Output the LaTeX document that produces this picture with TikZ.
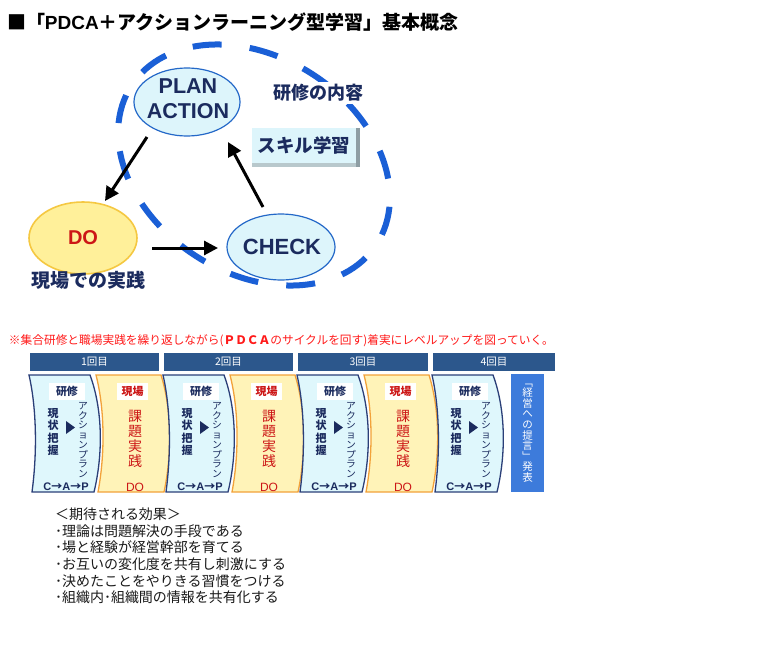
\documentclass[tikz,border=0pt]{standalone}
\usepackage{fontspec}
\usepackage{graphicx}
\setmainfont{Noto Sans CJK JP}
\newfontfamily\lat{Liberation Sans}
\usetikzlibrary{arrows.meta,shapes.geometric}
\definecolor{dashblue}{HTML}{1A5FD6}
\definecolor{navy}{HTML}{1B2B5E}
\definecolor{lcyan}{HTML}{DDF5FB}
\definecolor{ellblue}{HTML}{2468C8}
\definecolor{doyellow}{HTML}{FFF09A}
\definecolor{doborder}{HTML}{F5C842}
\definecolor{dored}{HTML}{CC1616}
\definecolor{barblue}{HTML}{2C578C}
\definecolor{kcyan}{HTML}{DFF7FC}
\definecolor{kborder}{HTML}{2B3F78}
\definecolor{gyellow}{HTML}{FFF3B8}
\definecolor{gorange}{HTML}{F2A23A}
\definecolor{boxblue}{HTML}{3D7BDB}
\definecolor{redtext}{HTML}{FF1A1A}
\definecolor{bodytext}{HTML}{1A1A1A}
\definecolor{bevdark}{HTML}{8E9EA4}
\definecolor{bevlight}{HTML}{B8C8CC}
\newcommand{\myfs}[2]{\fontsize{#1}{#2}\selectfont}
\begin{document}
\begin{tikzpicture}[x=1pt,y=-1pt,
  every node/.style={inner sep=0pt, outer sep=0pt},
  arr/.style={line width=3pt, -{Triangle[length=14pt,width=14pt]}},
  cyc/.style={ellipse, draw=ellblue, fill=lcyan, line width=1.2pt, inner sep=0pt},
  cyctext/.style={font=\lat\bfseries\myfs{21.5}{25}, text=navy, align=center},
  kpanel/.style={fill=kcyan, draw=kborder, line width=1.3pt},
  gpanel/.style={fill=gyellow, draw=gorange, line width=1.3pt},
  vtext/.style={align=center},
  bartext/.style={text=white, font=\myfs{10.5}{12}},
  labbox/.style={fill=white, minimum width=34pt, minimum height=17pt, font=\bfseries\myfs{11}{12}}
]
\useasboundingbox (0,0) rectangle (777,651);
\fill[white] (0,0) rectangle (777,651);

% title
\node[anchor=west, font=\bfseries\myfs{19}{22}] (title) at (7,22)
  {■「{\lat PDCA}＋アクションラーニング型学習」基本概念};

% dashed cycle
\draw[dashblue, line width=6pt, dash pattern=on 29pt off 28.3pt, dash phase=40pt,
      rotate around={-33:(254,165)}]
  (254,165) ellipse [x radius=146, y radius=108];

% cycle nodes
\node[cyc, minimum width=106pt, minimum height=68pt] (plan) at (187,102) {};
\node[cyctext] (plantext) at (188,99) {PLAN\\ACTION};
\node[ellipse, draw=doborder, fill=doyellow, line width=1.6pt, minimum width=108pt, minimum height=72pt] (do) at (83,238) {};
\node[font=\lat\bfseries\myfs{20}{22}, text=dored] (dotext) at (83,238) {DO};
\node[cyc, minimum width=108pt, minimum height=66pt] (check) at (281,247) {};
\node[font=\lat\bfseries\myfs{22}{24}, text=navy] (checktext) at (282,247) {CHECK};

\node[fill=white, inner sep=2pt, font=\bfseries\myfs{18}{20}, text=navy] (naiyo) at (318,93) {研修の内容};
\node[font=\bfseries\myfs{19}{21}, text=navy] (genbajissen) at (88,280) {現場での実践};

% skill box with bevel
\fill[bevdark] (252,128) rectangle (360,167);
\fill[bevlight] (252,128) rectangle (356,167);
\node[fill=lcyan, minimum width=104pt, minimum height=35pt, anchor=north west,
      font=\bfseries\myfs{18.5}{20}, text=navy] (skill) at (252,128) {スキル学習};

% arrows
\coordinate (a1s) at (147,137); \coordinate (a1e) at (105,201);
\coordinate (a2s) at (152,248); \coordinate (a2e) at (218,248);
\coordinate (a3s) at (263,207); \coordinate (a3e) at (228,142);
\draw[arr] (a1s) -- (a1e);
\draw[arr] (a2s) -- (a2e);
\draw[arr] (a3s) -- (a3e);

% red note
\node[anchor=west, text=redtext, font=\myfs{11.7}{13}] (note) at (9,341)
  {※集合研修と職場実践を繰り返しながら({\bfseries ＰＤＣＡ}のサイクルを回す)着実にレベルアップを図っていく。};

% header bars
\foreach \xa/\xb/\n in {30/159/1,164/293/2,298/428/3,433/555/4}{
  \fill[barblue] (\xa,353) rectangle (\xb,371);
  \node[bartext] (bar\n) at ({(\xa+\xb)/2},362) {\n 回目};
}

% panels
\foreach \dx/\n in {0/1,134/2,268/3,403/4}{
  \draw[kpanel] (29+\dx,375) .. controls (37+\dx,410) and (37+\dx,455) .. (32+\dx,492)
     -- (94+\dx,492) .. controls (103+\dx,455) and (103+\dx,410) .. (90+\dx,375) -- cycle;
  \node[labbox, minimum width=36pt, text=navy] (kl\n) at (67+\dx,391.5) {研修};
  \node[vtext, text=navy, font=\bfseries\myfs{11}{12.5}] (jokyo\n) at (53+\dx,432) {現\\状\\把\\握};
  \fill[navy] (66+\dx,421) -- (75+\dx,427.5) -- (66+\dx,434) -- cycle;
  \node[vtext, text=navy, font=\myfs{9.8}{9.7}] (plan\n) at (83+\dx,440) {ア\\ク\\シ\\ョ\\ン\\プ\\ラ\\ン};
  \node[text=navy, font=\bfseries\myfs{11}{12}] (cap\n) at (66+\dx,487) {{\lat C}→{\lat A}→{\lat P}};
  \ifnum\n<4
  \draw[gpanel] (96+\dx,375) .. controls (105+\dx,410) and (105+\dx,455) .. (98+\dx,492)
     -- (164+\dx,492) .. controls (172+\dx,455) and (172+\dx,410) .. (161+\dx,375) -- cycle;
  \node[labbox, minimum width=31pt, text=dored] (gl\n) at (132.5+\dx,391.5) {現場};
  \node[vtext, text=dored, font=\myfs{14}{15}] (kadai\n) at (135+\dx,439) {課\\題\\実\\践};
  \node[text=dored, font=\lat\myfs{12}{13}] (do\n) at (135+\dx,487) {DO};
  \fi
}

% final blue box
\node[fill=boxblue, minimum width=33pt, minimum height=118pt, text=white, align=center,
      font=\myfs{10.5}{10.6}] (teigen) at (527.5,433)
  {﹁\\経\\営\\へ\\の\\提\\言\\﹂\\発\\表};

% effects
\node[anchor=north west, align=left, text=bodytext, font=\myfs{14}{16.6}] (effects) at (55,508)
  {＜期待される効果＞\\
   ･理論は問題解決の手段である\\
   ･場と経験が経営幹部を育てる\\
   ･お互いの変化度を共有し刺激にする\\
   ･決めたことをやりきる習慣をつける\\
   ･組織内･組織間の情報を共有化する};
\end{tikzpicture}
\end{document}
